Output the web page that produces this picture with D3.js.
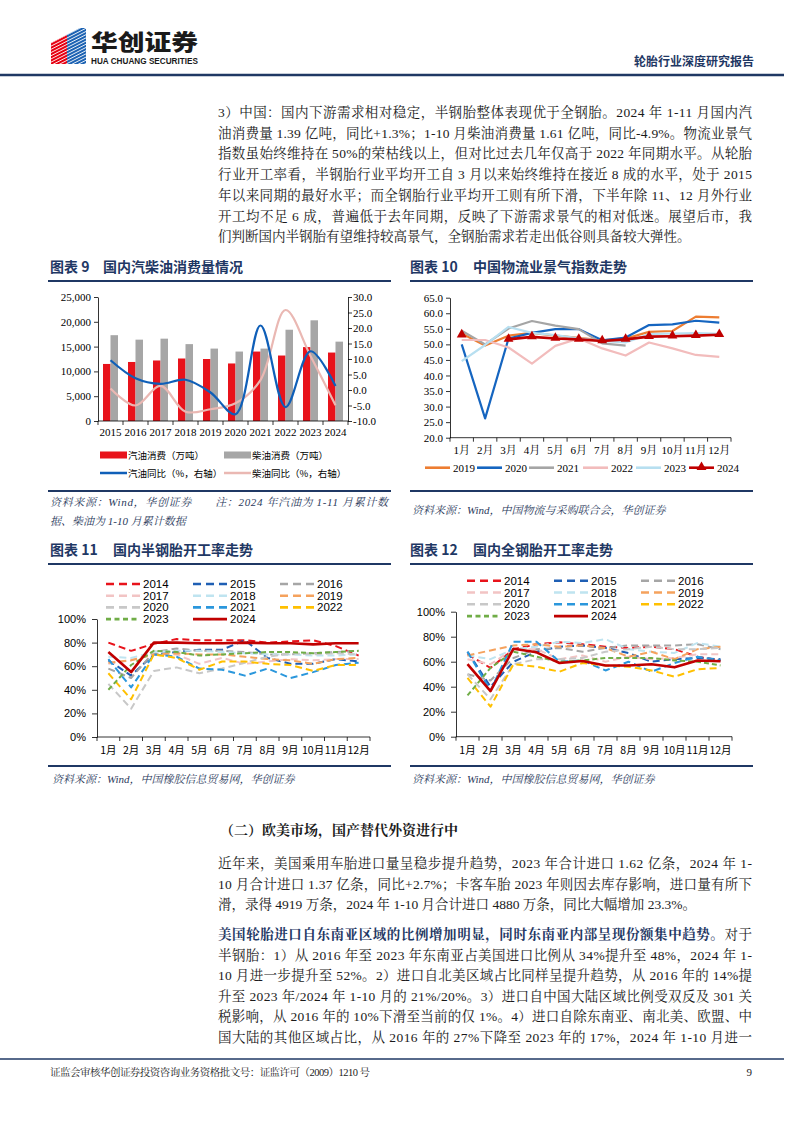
<!DOCTYPE html>
<html><head><meta charset="utf-8">
<script src="https://cdn.jsdelivr.net/npm/d3@7"></script>
<style>body{margin:0;background:#fff}svg{display:block}</style>
</head><body>
<svg id="page" width="794" height="1123"></svg>
<script>
// ---------------- DATA ----------------
const years9 = ["2015","2016","2017","2018","2019","2020","2021","2022","2023","2024"];
const gasoline = [11500,11900,12200,12600,12500,11600,14000,13200,14900,13800];
const diesel = [17300,16400,16600,15500,14600,14000,14600,18400,20300,16000];
const gasolineYoY = [9.6,3.8,2.0,3.3,-0.8,-7.8,20.8,-5.5,12.5,1.3];
const dieselYoY = [0.5,-5.0,1.3,-7.0,-6.2,-4.3,3.2,25.8,11.0,-4.9];
const leftTicks9 = [0,5000,10000,15000,20000,25000];
const rightTicks9 = [-10,-5,0,5,10,15,20,25,30];
const legend9 = ["汽油消费（万吨）","柴油消费（万吨）","汽油同比（%，右轴）","柴油同比（%，右轴）"];

const months = ["1月","2月","3月","4月","5月","6月","7月","8月","9月","10月","11月","12月"];
const lpiYears = ["2019","2020","2021","2022","2023","2024"];
const lpi2019 = [53.5,49.6,52.8,53.7,52.8,52.1,51.3,51.9,54.0,54.3,58.9,58.7];
const lpi2020 = [50.0,26.2,51.9,53.7,54.9,54.9,51.3,52.2,56.2,56.4,57.6,57.0];
const lpi2021 = [54.4,50.0,55.1,57.5,56.0,54.9,50.3,49.6,null,null,null,null];
const lpi2022 = [51.4,51.4,49.0,43.8,49.5,51.9,48.7,46.4,50.6,48.7,46.6,46.0];
const lpi2023 = [44.6,49.8,55.6,53.7,53.0,51.9,51.1,50.6,53.3,53.5,53.6,53.4];
const lpi2024 = [53.0,null,51.6,52.4,51.9,51.6,51.1,51.6,52.5,52.6,52.8,53.1];
const lpiTicks = [20,25,30,35,40,45,50,55,60,65];

const rateYears = ["2014","2015","2016","2017","2018","2019","2020","2021","2022","2023","2024"];
const semi2014 = [0.80,0.73,0.79,0.83,0.82,0.82,0.82,0.80,0.81,0.82,0.77,0.69];
const semi2015 = [0.65,0.52,0.70,0.72,0.74,0.74,0.82,0.67,0.62,0.62,0.66,0.64];
const semi2016 = [0.58,0.50,0.72,0.75,0.73,0.73,0.72,0.70,0.70,0.71,0.72,0.73];
const semi2017 = [0.62,0.65,0.70,0.70,0.62,0.67,0.62,0.64,0.66,0.65,0.66,0.66];
const semi2018 = [0.68,0.67,0.72,0.73,0.73,0.72,0.71,0.70,0.70,0.69,0.69,0.70];
const semi2019 = [0.63,0.65,0.70,0.71,0.70,0.70,0.68,0.66,0.65,0.62,0.66,0.67];
const semi2020 = [0.45,0.24,0.56,0.59,0.54,0.58,0.63,0.68,0.71,0.70,0.71,0.70];
const semi2021 = [0.66,0.42,0.70,0.68,0.58,0.57,0.52,0.58,0.50,0.55,0.61,0.63];
const semi2022 = [0.54,0.32,0.70,0.67,0.57,0.64,0.64,0.62,0.61,0.56,0.61,0.61];
const semi2023 = [0.40,0.61,0.73,0.72,0.69,0.70,0.71,0.72,0.72,0.71,0.72,0.73];
const semi2024 = [0.72,0.55,0.80,0.80,0.795,0.794,0.80,0.795,0.794,0.785,0.795,0.795];

const all2014 = [0.66,0.55,0.70,0.74,0.755,0.74,0.72,0.71,0.72,0.70,0.64,0.61];
const all2015 = [0.68,0.40,0.60,0.68,0.72,0.73,0.71,0.67,0.60,0.62,0.63,0.62];
const all2016 = [0.50,0.45,0.63,0.70,0.71,0.68,0.71,0.73,0.73,0.73,0.74,0.70];
const all2017 = [0.62,0.58,0.70,0.70,0.62,0.65,0.60,0.64,0.62,0.63,0.66,0.66];
const all2018 = [0.65,0.62,0.70,0.72,0.76,0.75,0.78,0.70,0.68,0.67,0.75,0.72];
const all2019 = [0.65,0.69,0.73,0.74,0.72,0.73,0.71,0.64,0.68,0.62,0.70,0.72];
const all2020 = [0.50,0.30,0.58,0.62,0.62,0.63,0.68,0.70,0.72,0.70,0.70,0.71];
const all2021 = [0.68,0.37,0.76,0.76,0.60,0.61,0.53,0.60,0.52,0.59,0.64,0.61];
const all2022 = [0.47,0.24,0.58,0.56,0.52,0.59,0.57,0.56,0.53,0.48,0.54,0.55];
const all2023 = [0.33,0.55,0.68,0.64,0.60,0.61,0.63,0.63,0.63,0.61,0.60,0.57];
const all2024 = [0.58,0.365,0.704,0.675,0.59,0.605,0.57,0.57,0.58,0.555,0.61,0.603];
const rateTicks = [0,0.2,0.4,0.6,0.8,1.0];

// ---------------- STYLE ----------------
const NAVY = "#1f3864";
const SERIF = "'Liberation Serif','Noto Serif CJK SC','Noto Sans CJK SC',serif";
const SANS = "'Liberation Sans','Noto Sans CJK SC',sans-serif";
const CJK = "'Noto Sans CJK SC',sans-serif";

const svg = d3.select("#page");
svg.append("rect").attr("width",794).attr("height",1123).attr("fill","#fff");

// ---------------- HEADER ----------------
const defs = svg.append("defs");
defs.append("clipPath").attr("id","logoClip").append("polygon")
  .attr("points","51,43 80,28 86,28 86,64 51,64");
const logo = svg.append("g").attr("clip-path","url(#logoClip)");
logo.append("rect").attr("x",51).attr("y",28).attr("width",16).attr("height",36).attr("fill","#e60012");
logo.append("rect").attr("x",67).attr("y",28).attr("width",19).attr("height",36).attr("fill","#1d63b3");
for (let i=-10;i<20;i++){
  logo.append("line").attr("x1",45).attr("y1",46+i*3.2).attr("x2",92).attr("y2",22+i*3.2)
    .attr("stroke","#fff").attr("stroke-width",0.9);
}
svg.append("text").attr("x",91).attr("y",50).attr("font-family",CJK).attr("font-weight",900)
  .attr("font-size",22).attr("fill","#1a1a1a").attr("textLength",107).attr("lengthAdjust","spacingAndGlyphs").text("华创证券");
svg.append("text").attr("x",91).attr("y",64).attr("font-family","'Liberation Sans',sans-serif").attr("font-weight",700)
  .attr("font-size",8.2).attr("fill","#1a1a1a").attr("textLength",107).attr("lengthAdjust","spacingAndGlyphs").text("HUA CHUANG SECURITIES");
svg.append("text").attr("x",754).attr("y",66).attr("text-anchor","end").attr("font-family",CJK).attr("font-weight",700)
  .attr("font-size",12).attr("fill",NAVY).text("轮胎行业深度研究报告");
svg.append("line").attr("x1",0).attr("x2",784).attr("y1",75).attr("y2",75).attr("stroke",NAVY).attr("stroke-width",2.5);

// ---------------- TEXT HELPERS ----------------
function textLine(x, y, segs, opts){
  const t = svg.append("text").attr("x",x).attr("y",y)
    .attr("font-family",opts.family||SERIF).attr("font-size",opts.size||13.5).attr("fill",opts.fill||"#1a1a1a");
  if (opts.italic) t.attr("font-style","italic");
  if (opts.width){ t.attr("textLength",opts.width).attr("lengthAdjust","spacing"); }
  if (opts.anchor) t.attr("text-anchor",opts.anchor);
  segs.forEach(s=>{
    const sp = t.append("tspan").text(s.t);
    if (s.bold) sp.attr("font-weight",700);
    if (s.fill) sp.attr("fill",s.fill);
  });
  return t;
}
const para1 = [
  "3）中国：国内下游需求相对稳定，半钢胎整体表现优于全钢胎。2024 年 1-11 月国内汽",
  "油消费量 1.39 亿吨，同比+1.3%；1-10 月柴油消费量 1.61 亿吨，同比-4.9%。物流业景气",
  "指数虽始终维持在 50%的荣枯线以上，但对比过去几年仅高于 2022 年同期水平。从轮胎",
  "行业开工率看，半钢胎行业平均开工自 3 月以来始终维持在接近 8 成的水平，处于 2015",
  "年以来同期的最好水平；而全钢胎行业平均开工则有所下滑，下半年除 11、12 月外行业",
  "开工均不足 6 成，普遍低于去年同期，反映了下游需求景气的相对低迷。展望后市，我",
  "们判断国内半钢胎有望维持较高景气，全钢胎需求若走出低谷则具备较大弹性。"
];
para1.forEach((l,i)=>{
  textLine(218, 117+i*20.7, [{t:l}], {width: i<para1.length-1 ? 534 : null});
});

// ---------------- CHART FRAME HELPERS ----------------
function chartTitle(x, y, num, title, lineX1, lineX2, lineY){
  svg.append("text").attr("x",x).attr("y",y).attr("font-family",CJK).attr("font-weight",700)
    .attr("font-size",14).attr("fill",NAVY).text("图表 "+num);
  svg.append("text").attr("x",x+(num.length>1?63:53)).attr("y",y).attr("font-family",CJK).attr("font-weight",700)
    .attr("font-size",14).attr("fill",NAVY).text(title);
  svg.append("line").attr("x1",lineX1).attr("x2",lineX2).attr("y1",lineY).attr("y2",lineY)
    .attr("stroke",NAVY).attr("stroke-width",2);
}
function sourceLine(x1,x2,ly,tx,ty,txt,width){
  svg.append("line").attr("x1",x1).attr("x2",x2).attr("y1",ly).attr("y2",ly).attr("stroke",NAVY).attr("stroke-width",2);
  const t = svg.append("text").attr("x",tx).attr("y",ty).attr("font-family",SERIF).attr("font-style","italic")
    .attr("font-size",11).attr("fill","#2b3a5c").text(txt);
  if (width) t.attr("textLength",width).attr("lengthAdjust","spacing");
}
function styleAxis(g, family, size){
  g.selectAll(".domain").attr("stroke","#000").attr("stroke-width",0.8);
  g.selectAll(".tick line").attr("stroke","#000").attr("stroke-width",0.8);
  g.selectAll("text").attr("font-family",family).attr("font-size",size).attr("fill","#000");
}
function bandAxis(xs, y, family, size, labelDy){
  const g = svg.append("g");
  const [r0,r1] = xs.range();
  g.append("line").attr("x1",r0).attr("x2",r1).attr("y1",y).attr("y2",y).attr("stroke","#000").attr("stroke-width",0.8);
  const off = (xs.step()-xs.bandwidth())/2;
  const bounds = xs.domain().map(d=>xs(d)-off).concat([r1]);
  g.selectAll("line.tk").data(bounds).enter().append("line").attr("class","tk")
    .attr("x1",d=>d).attr("x2",d=>d).attr("y1",y).attr("y2",y+4).attr("stroke","#000").attr("stroke-width",0.8);
  g.selectAll("text").data(xs.domain()).enter().append("text")
    .attr("x",d=>xs(d)+xs.bandwidth()/2).attr("y",y+labelDy).attr("text-anchor","middle")
    .attr("font-family",family).attr("font-size",size).attr("fill","#000").text(d=>d);
}

// ---------------- CHART 9 ----------------
chartTitle(50, 272, "9", "国内汽柴油消费量情况", 48, 391, 281);
{
  const x = d3.scaleBand().domain(years9).range([98,348]).paddingInner(0.4).paddingOuter(0.2);
  const yL = d3.scaleLinear().domain([0,25000]).range([421,297]);
  const yR = d3.scaleLinear().domain([-10,30]).range([421,297]);
  const bw = x.bandwidth()/2;
  svg.append("g").selectAll("rect").data(years9).enter().append("rect")
    .attr("x",d=>x(d)).attr("width",bw).attr("y",(d,i)=>yL(gasoline[i])).attr("height",(d,i)=>421-yL(gasoline[i]))
    .attr("fill","#e8131b");
  svg.append("g").selectAll("rect").data(years9).enter().append("rect")
    .attr("x",d=>x(d)+bw).attr("width",bw).attr("y",(d,i)=>yL(diesel[i])).attr("height",(d,i)=>421-yL(diesel[i]))
    .attr("fill","#a6a6a6");
  const gl = svg.append("g").attr("transform","translate(98,0)")
    .call(d3.axisLeft(yL).tickValues(leftTicks9).tickFormat(d3.format(",")).tickSize(4).tickSizeOuter(0).tickPadding(3));
  styleAxis(gl, SERIF, 11);
  const gr = svg.append("g").attr("transform","translate(348,0)")
    .call(d3.axisRight(yR).tickValues(rightTicks9).tickFormat(d=>d.toFixed(1)).tickSize(4).tickSizeOuter(0).tickPadding(1));
  styleAxis(gr, SERIF, 11);
  bandAxis(x, 421, SERIF, 11, 15);
  const cx = d=>x(d)+x.bandwidth()/2;
  const line = d3.line().curve(d3.curveCatmullRom.alpha(0.5));
  svg.append("path").attr("d",line(years9.map((d,i)=>[cx(d),yR(dieselYoY[i])])))
    .attr("fill","none").attr("stroke","#eab8b3").attr("stroke-width",2.2);
  svg.append("path").attr("d",line(years9.map((d,i)=>[cx(d),yR(gasolineYoY[i])])))
    .attr("fill","none").attr("stroke","#0f5fb8").attr("stroke-width",2.2);
  // legend
  const lg = svg.append("g");
  const items = [
    {x:100,y:455,type:"rect",c:"#e8131b",t:legend9[0]},
    {x:224,y:455,type:"rect",c:"#a6a6a6",t:legend9[1]},
    {x:100,y:473,type:"line",c:"#0f5fb8",t:legend9[2]},
    {x:224,y:473,type:"line",c:"#eab8b3",t:legend9[3]}
  ];
  items.forEach(it=>{
    if (it.type==="rect") lg.append("rect").attr("x",it.x).attr("y",it.y-3.5).attr("width",27).attr("height",7).attr("fill",it.c);
    else lg.append("line").attr("x1",it.x).attr("x2",it.x+27).attr("y1",it.y).attr("y2",it.y).attr("stroke",it.c).attr("stroke-width",2.5);
    lg.append("text").attr("x",it.x+28).attr("y",it.y+3.5).attr("font-family",CJK).attr("font-size",9.5).attr("fill","#000").text(it.t);
  });
}
sourceLine(48, 391, 491, 50, 506, "资料来源：Wind，华创证券　　注：2024 年汽油为 1-11 月累计数", 338);
svg.append("text").attr("x",50).attr("y",525).attr("font-family",SERIF).attr("font-style","italic")
  .attr("font-size",11).attr("fill","#2b3a5c").text("据、柴油为 1-10 月累计数据");

// ---------------- CHART 10 ----------------
chartTitle(410, 272, "10", "中国物流业景气指数走势", 410, 753, 281);
{
  const x = d3.scaleBand().domain(months).range([450,731]);
  const y = d3.scaleLinear().domain([20,65]).range([437.7,297.7]);
  const ga = svg.append("g").attr("transform","translate(450,0)")
    .call(d3.axisLeft(y).tickValues(lpiTicks).tickFormat(d=>d.toFixed(1)).tickSize(4).tickSizeOuter(0).tickPadding(3));
  styleAxis(ga, SERIF, 11);
  bandAxis(x, 437.7, SERIF, 11, 16);
  const series = [
    {k:"2019",v:lpi2019,c:"#ed7d31"},
    {k:"2020",v:lpi2020,c:"#1565c0"},
    {k:"2021",v:lpi2021,c:"#a5a5a5"},
    {k:"2022",v:lpi2022,c:"#f2bcbc"},
    {k:"2023",v:lpi2023,c:"#b7dff0"},
    {k:"2024",v:lpi2024,c:"#c00000"}
  ];
  const cx = i=>x(months[i])+x.bandwidth()/2;
  const line = d3.line().defined(d=>d!=null).x((d,i)=>cx(i)).y(d=>y(d));
  series.forEach(s=>{
    svg.append("path").attr("d",line(s.v)).attr("fill","none").attr("stroke",s.c)
      .attr("stroke-width",s.k==="2024"?2.6:2.2).attr("stroke-linejoin","round");
  });
  const tri = d3.symbol().type(d3.symbolTriangle).size(42);
  svg.append("g").selectAll("path").data(lpi2024.map((v,i)=>({v,i})).filter(d=>d.v!=null)).enter().append("path")
    .attr("d",tri).attr("transform",d=>`translate(${cx(d.i)},${y(d.v)-0.5})`).attr("fill","#c00000");
  // legend
  const lx = [425,477,529,583,636,689];
  series.forEach((s,i)=>{
    svg.append("line").attr("x1",lx[i]).attr("x2",lx[i]+25).attr("y1",467.7).attr("y2",467.7)
      .attr("stroke",s.c).attr("stroke-width",2.6);
    if (s.k==="2024") svg.append("path").attr("d",tri).attr("transform",`translate(${lx[i]+12.5},467.2)`).attr("fill","#c00000");
    svg.append("text").attr("x",lx[i]+28).attr("y",471.5).attr("font-family",SERIF).attr("font-size",11).attr("fill","#000").text(s.k);
  });
}
sourceLine(410, 753, 491, 412, 514, "资料来源：Wind，中国物流与采购联合会，华创证券");

// ---------------- CHARTS 11 & 12 ----------------
const rateColors = {"2014":"#e8131b","2015":"#1f5fb4","2016":"#a6a6a6","2017":"#f2c4c4","2018":"#bfe4f0",
  "2019":"#f5a25d","2020":"#c8c8c8","2021":"#2b97dc","2022":"#ffc000","2023":"#70ad47","2024":"#c00000"};
function rateChart(cfg, data){
  const x = d3.scaleBand().domain(months).range([cfg.x0,cfg.x1]);
  const y = d3.scaleLinear().domain([0,1]).range([cfg.yb,cfg.yt]);
  const ga = svg.append("g").attr("transform",`translate(${cfg.x0},0)`)
    .call(d3.axisLeft(y).tickValues(rateTicks).tickFormat(d3.format(".0%")).tickSize(5).tickSizeOuter(0).tickPadding(6));
  styleAxis(ga, SANS, 11);
  bandAxis(x, cfg.yb, CJK, 10.5, 17);
  const cx = i=>x(months[i])+x.bandwidth()/2;
  const line = d3.line().x((d,i)=>cx(i)).y(d=>y(d));
  rateYears.forEach((k,idx)=>{
    const p = svg.append("path").attr("d",line(data[idx])).attr("fill","none").attr("stroke",rateColors[k])
      .attr("stroke-width",k==="2024"?2.6:2).attr("stroke-linejoin","round");
    if (k!=="2024") p.attr("stroke-dasharray",k==="2023"?"5,3":"7,4");
  });
  // legend
  rateYears.forEach((k,idx)=>{
    const col = idx%3, row = Math.floor(idx/3);
    const lx = cfg.legX + col*87, ly = cfg.legY + row*cfg.legDy;
    const l = svg.append("line").attr("x1",lx).attr("x2",lx+34).attr("y1",ly).attr("y2",ly)
      .attr("stroke",rateColors[k]).attr("stroke-width",2.6);
    if (k!=="2024") l.attr("stroke-dasharray",k==="2023"?"5,3.5":"8,5");
    svg.append("text").attr("x",lx+37).attr("y",ly+4).attr("font-family",SANS).attr("font-size",11.5).attr("fill","#000").text(k);
  });
}
chartTitle(50, 555, "11", "国内半钢胎开工率走势", 48, 391, 564);
rateChart({x0:97,x1:370,yt:619,yb:737,legX:106,legY:584,legDy:11.7},
  [semi2014,semi2015,semi2016,semi2017,semi2018,semi2019,semi2020,semi2021,semi2022,semi2023,semi2024]);
sourceLine(48, 391, 766, 52, 783, "资料来源：Wind，中国橡胶信息贸易网，华创证券");

chartTitle(410, 555, "12", "国内全钢胎开工率走势", 410, 753, 564);
rateChart({x0:456,x1:732,yt:611.7,yb:736.7,legX:467,legY:580.7,legDy:11.8},
  [all2014,all2015,all2016,all2017,all2018,all2019,all2020,all2021,all2022,all2023,all2024]);
sourceLine(410, 753, 766, 412, 783, "资料来源：Wind，中国橡胶信息贸易网，华创证券");

// ---------------- LOWER TEXT ----------------
svg.append("text").attr("x",220).attr("y",835).attr("font-family",SERIF).attr("font-weight",700)
  .attr("font-size",14).attr("fill","#1a1a1a").text("（二）欧美市场，国产替代外资进行中");
const para2 = [
  "近年来，美国乘用车胎进口量呈稳步提升趋势，2023 年合计进口 1.62 亿条，2024 年 1-",
  "10 月合计进口 1.37 亿条，同比+2.7%；卡客车胎 2023 年则因去库存影响，进口量有所下",
  "滑，录得 4919 万条，2024 年 1-10 月合计进口 4880 万条，同比大幅增加 23.3%。"
];
para2.forEach((l,i)=>textLine(218, 868+i*20.5, [{t:l}], {width: i<2?534:null}));
const para3 = [
  [{t:"美国轮胎进口自东南亚区域的比例增加明显，同时东南亚内部呈现份额集中趋势。",bold:true,fill:NAVY},{t:"对于"}],
  [{t:"半钢胎：1）从 2016 年至 2023 年东南亚占美国进口比例从 34%提升至 48%，2024 年 1-"}],
  [{t:"10 月进一步提升至 52%。2）进口自北美区域占比同样呈提升趋势，从 2016 年的 14%提"}],
  [{t:"升至 2023 年/2024 年 1-10 月的 21%/20%。3）进口自中国大陆区域比例受双反及 301 关"}],
  [{t:"税影响，从 2016 年的 10%下滑至当前的仅 1%。4）进口自除东南亚、南北美、欧盟、中"}],
  [{t:"国大陆的其他区域占比，从 2016 年的 27%下降至 2023 年的 17%，2024 年 1-10 月进一"}]
];
para3.forEach((segs,i)=>textLine(218, 939+i*20.6, segs, {width:534}));

// ---------------- FOOTER ----------------
svg.append("line").attr("x1",0).attr("x2",784).attr("y1",1059).attr("y2",1059).attr("stroke",NAVY).attr("stroke-width",1.5);
svg.append("text").attr("x",50).attr("y",1076).attr("font-family",SERIF).attr("font-size",10.5).attr("fill","#1a1a1a")
  .attr("textLength",320).attr("lengthAdjust","spacing").text("证监会审核华创证券投资咨询业务资格批文号：证监许可（2009）1210 号");
svg.append("text").attr("x",752).attr("y",1076).attr("text-anchor","end").attr("font-family",SERIF).attr("font-size",11).attr("fill","#1a1a1a").text("9");
</script>
</body></html>
